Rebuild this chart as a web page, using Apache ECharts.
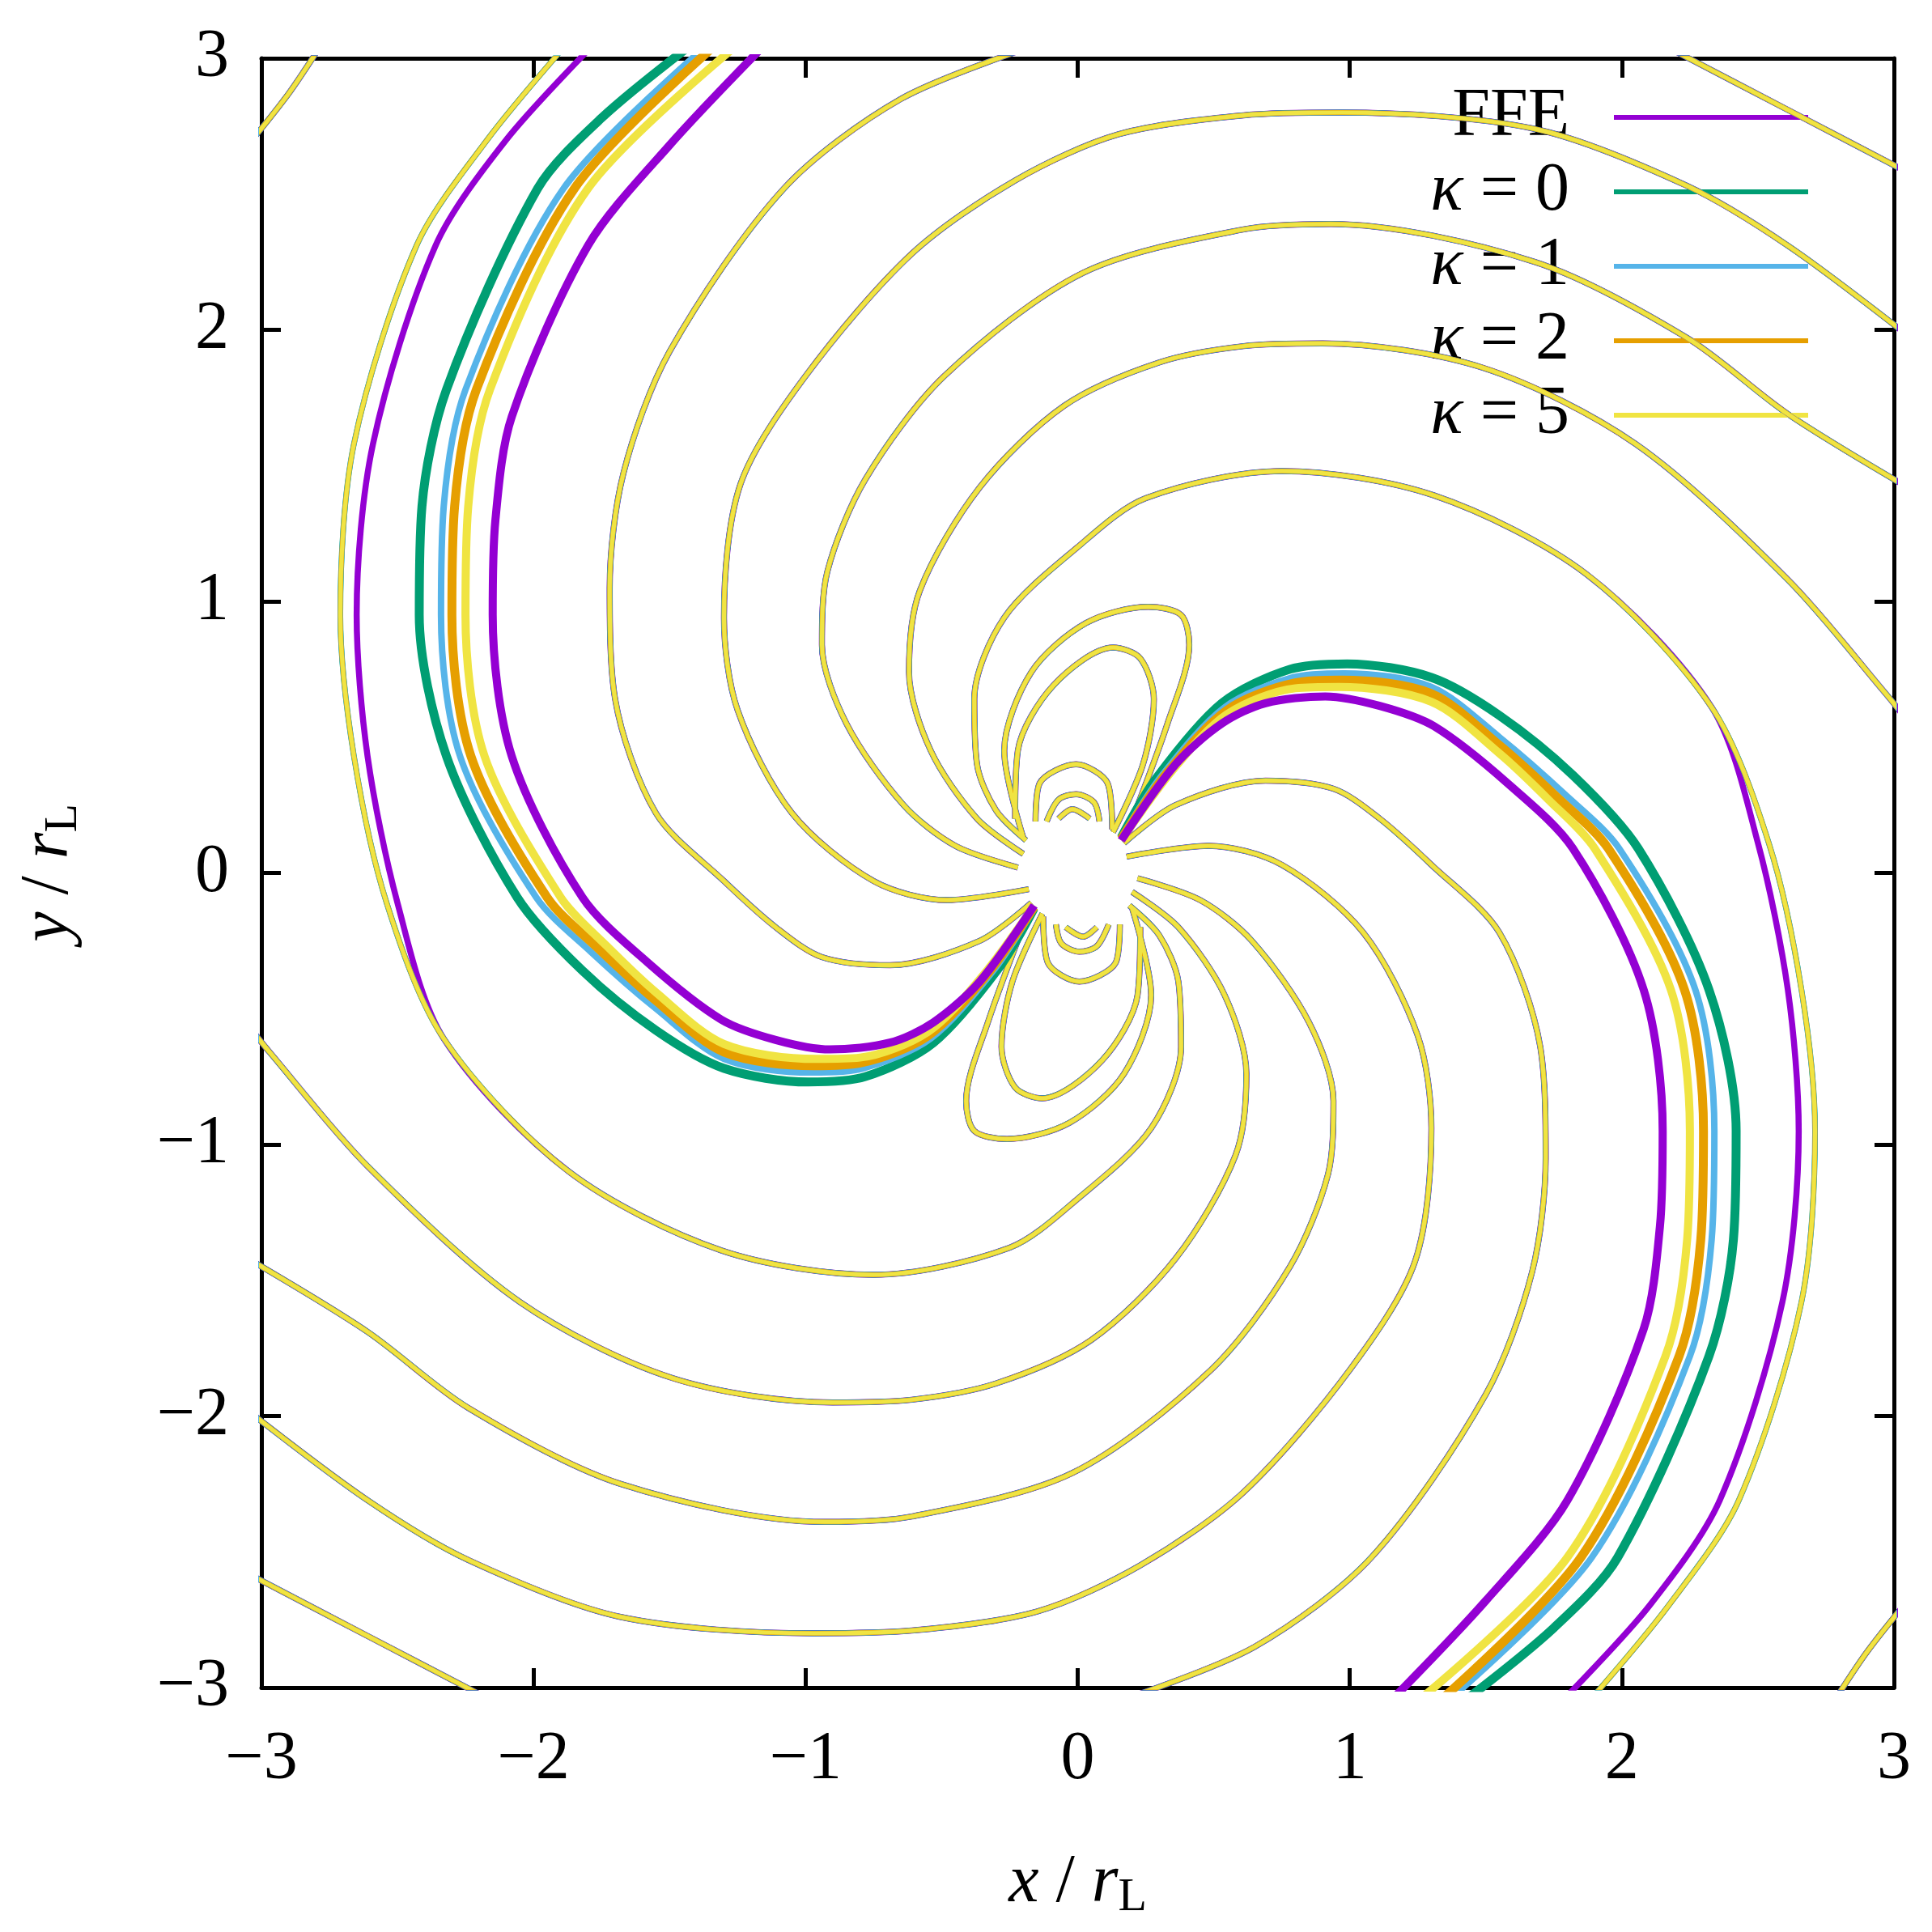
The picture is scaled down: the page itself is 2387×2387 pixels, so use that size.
<!DOCTYPE html>
<html><head><meta charset="utf-8">
<script src="https://cdn.jsdelivr.net/npm/echarts@6/dist/echarts.min.js"></script>
<style>html,body{margin:0;padding:0;background:#fff}#c{width:2387px;height:2387px}</style>
</head><body><div id="c"></div>
<script>
// ---- data (x/rL, y/rL) ----
const names = ['FFE','κ = 0','κ = 1','κ = 2','κ = 5'];
const colors = ['#9400D3','#009E73','#56B4E9','#E69F00','#F0E442'];
const ticks = [-3,-2,-1,0,1,2,3];

const R1line = [[0.17,0.11],[0.36,0.25],[0.69,0.34],[0.94,0.31],[1.11,0.20],[1.30,0.03],[1.55,-0.22],[1.70,-0.64],[1.72,-1.05],[1.67,-1.47],[1.50,-1.92],[1.08,-2.52],[0.65,-2.85],[0.15,-3.05]];
const L1 = [[-0.18,-0.06],[-0.48,-0.10],[-0.75,-0.03],[-1.05,0.22],[-1.25,0.60],[-1.30,0.94],[-1.24,1.43],[-1.00,1.83],[-0.61,2.28],[-0.23,2.55],[0.15,2.72],[0.61,2.79],[0.97,2.80],[1.68,2.74],[2.24,2.53],[2.61,2.31],[3.05,1.98]];
const L2 = [[-0.22,0.02],[-0.45,0.10],[-0.64,0.25],[-0.85,0.55],[-0.94,0.84],[-0.92,1.11],[-0.78,1.45],[-0.49,1.83],[0.02,2.21],[0.61,2.37],[0.93,2.39],[1.68,2.25],[2.24,1.97],[2.61,1.69],[3.05,1.42]];
const L3 = [[-0.20,0.07],[-0.37,0.20],[-0.54,0.45],[-0.62,0.74],[-0.58,1.04],[-0.36,1.42],[-0.05,1.72],[0.30,1.88],[0.61,1.94],[0.90,1.95],[1.49,1.86],[2.05,1.58],[2.61,1.08],[2.97,0.66],[3.05,0.56]];
const L4in = [[-0.19,0.12],[-0.30,0.23],[-0.37,0.40],[-0.38,0.64],[-0.27,0.94],[0.00,1.20],[0.25,1.38],[0.75,1.48],[1.31,1.39],[1.87,1.10],[2.33,0.61]];
const L4outFFE = [[2.50,0.11],[2.61,-0.43],[2.65,-0.95],[2.59,-1.58],[2.36,-2.31],[2.10,-2.70],[1.78,-3.05]];
const L4outK = [[2.54,0.11],[2.66,-0.43],[2.71,-0.95],[2.66,-1.58],[2.43,-2.31],[2.17,-2.70],[1.88,-3.05]];
const cornerTR = [[2.15,3.05],[2.61,2.81],[3.05,2.58]];
const cornerTL = [[-2.78,3.05],[-2.90,2.87],[-3.05,2.68]];
const loop1 = [[-0.20,0.13],[-0.27,0.45],[-0.17,0.74],[0.03,0.92],[0.26,0.98],[0.38,0.95],[0.41,0.84],[0.33,0.55],[0.19,0.17]];
const loop2 = [[-0.23,0.20],[-0.22,0.45],[-0.09,0.69],[0.13,0.83],[0.23,0.79],[0.28,0.64],[0.24,0.40],[0.13,0.15]];
const loopS1 = [[-0.155,0.19],[-0.14,0.33],[-0.006,0.40],[0.11,0.33],[0.127,0.16]];
const loopS2 = [[-0.114,0.19],[-0.07,0.27],[-0.006,0.29],[0.06,0.26],[0.08,0.19]];
const loopS3 = [[-0.07,0.20],[-0.02,0.235],[0.044,0.20]];

const thickFFE = [[0.16,0.12],[0.36,0.40],[0.53,0.55],[0.69,0.625],[0.91,0.65],[1.11,0.615],[1.31,0.54],[1.58,0.33],[1.82,0.09],[2.08,-0.43],[2.15,-0.95],[2.14,-1.30],[2.08,-1.68],[1.80,-2.31],[1.50,-2.68],[1.15,-3.05]];
const thickK0 = [[0.16,0.13],[0.29,0.35],[0.53,0.625],[0.78,0.75],[0.99,0.77],[1.30,0.72],[1.55,0.58],[1.82,0.36],[2.06,0.09],[2.32,-0.43],[2.42,-0.95],[2.41,-1.35],[2.32,-1.78],[1.985,-2.52],[1.75,-2.78],[1.42,-3.05]];
const thickK1 = [[0.16,0.13],[0.31,0.36],[0.54,0.61],[0.79,0.72],[0.98,0.735],[1.30,0.685],[1.55,0.50],[1.79,0.29],[1.99,0.09],[2.27,-0.43],[2.34,-0.95],[2.33,-1.35],[2.25,-1.78],[1.89,-2.52],[1.36,-3.05]];
const thickK2 = [[0.16,0.125],[0.33,0.37],[0.55,0.60],[0.80,0.70],[0.97,0.71],[1.30,0.66],[1.55,0.47],[1.76,0.28],[1.95,0.09],[2.23,-0.43],[2.30,-0.95],[2.29,-1.35],[2.21,-1.78],[1.85,-2.52],[1.33,-3.05]];
const thickK5 = [[0.16,0.12],[0.35,0.38],[0.55,0.585],[0.80,0.68],[0.96,0.685],[1.30,0.63],[1.55,0.44],[1.73,0.27],[1.90,0.09],[2.18,-0.43],[2.25,-0.95],[2.24,-1.35],[2.16,-1.78],[1.80,-2.52],[1.25,-3.05]];

// ---- build ----
const mirror = p => p.map(([x,y]) => [-x,-y]);
function join(lines){ const out=[]; lines.forEach(l=>{ l.forEach(p=>out.push(p)); out.push('-'); }); return out; }
const shared = [R1line,L1,L2,L3,cornerTR,cornerTL,loop1,loop2,loopS1,loopS2,loopS3];
const sharedAll = shared.concat(shared.map(mirror));
const l4ffe = L4in.concat(L4outFFE), l4k = L4in.concat(L4outK);
const thick = [thickFFE,thickK0,thickK1,thickK2,thickK5];
const thinW = [7.5,7,6.5,6,5];
const thickW = [10,11,8,11,10];

const series = [];
for (let i=0;i<5;i++){
  const l4 = i===0 ? l4ffe : l4k;
  series.push({type:'line', name:names[i], data: join(sharedAll.concat([l4, mirror(l4)])),
    smooth:0.3, showSymbol:false, symbol:'none', silent:true, z:2+i,
    lineStyle:{color:colors[i], width:thinW[i]}, itemStyle:{color:colors[i]}});
}
const thickOrder=[1,2,3,4,0];
thickOrder.forEach((i,k)=>{
  series.push({type:'line', name:names[i], data: join([thick[i], mirror(thick[i])]),
    smooth:0.3, showSymbol:false, symbol:'none', silent:true, z:10+k,
    lineStyle:{color:colors[i], width:thickW[i]}, itemStyle:{color:colors[i]}});
});

const font = 'Liberation Serif';
const FS = 84;
const lab = v => String(v).replace('-','−');
const nameStyle = {fontFamily:font, fontSize:FS, color:'#000',
  rich:{i:{fontStyle:'italic',fontFamily:font,fontSize:FS},s:{fontFamily:font,fontSize:58,verticalAlign:'bottom',padding:[36,0,0,0]}}};
const axBase = {type:'value', min:-3, max:3, interval:1,
  axisLine:{show:true, onZero:false, lineStyle:{color:'#000', width:5}},
  axisTick:{show:true, inside:true, length:24, lineStyle:{color:'#000', width:5}},
  splitLine:{show:false}};
const chart = echarts.init(document.getElementById('c'));
chart.setOption({
  animation:false, backgroundColor:'#fff',
  grid:{left:323, right:47, top:72, bottom:302},
  legend:{data:names, right:148, top:98, orient:'vertical', align:'right',
    itemWidth:240, itemHeight:6, itemGap:8, icon:'rect',
    textStyle:{fontFamily:font, fontSize:FS, lineHeight:84, color:'#000', padding:[0,50,0,0],
      rich:{i:{fontStyle:'italic', fontFamily:font, fontSize:FS}}},
    formatter: n => n.startsWith('κ') ? '{i|κ}' + n.slice(1) : n},
  xAxis:[Object.assign({}, axBase, {position:'bottom',
      axisLabel:{formatter:lab, fontFamily:font, fontSize:FS, color:'#000', margin:48},
      name:'{i|x} / {i|r}{s|L}', nameLocation:'middle', nameGap:195, nameTextStyle:nameStyle}),
    Object.assign({}, axBase, {position:'top', axisLabel:{show:false}})],
  yAxis:[Object.assign({}, axBase, {position:'left',
      axisLabel:{formatter:lab, fontFamily:font, fontSize:FS, color:'#000', margin:40},
      name:'{i|y} / {i|r}{s|L}', nameLocation:'middle', nameGap:215, nameRotate:90, nameTextStyle:nameStyle}),
    Object.assign({}, axBase, {position:'right', axisLabel:{show:false}})],
  series: series
});
</script></body></html>
